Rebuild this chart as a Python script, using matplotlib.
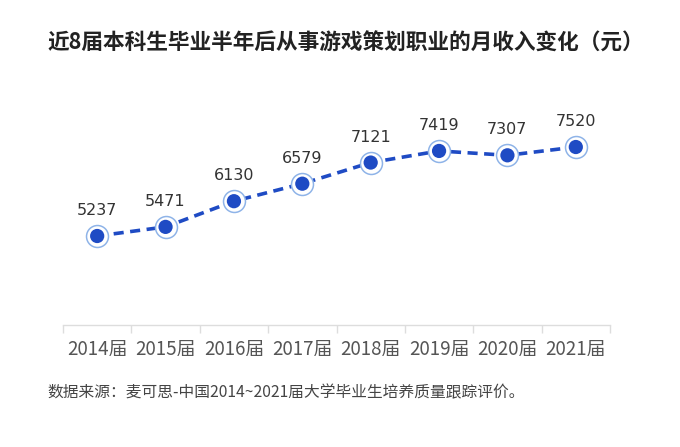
import matplotlib
matplotlib.use("Agg")
import matplotlib.pyplot as plt

plt.rcParams['font.family'] = ['Noto Sans CJK SC', 'DejaVu Sans']

categories = ["2014届", "2015届", "2016届", "2017届", "2018届", "2019届", "2020届", "2021届"]
values = [5237, 5471, 6130, 6579, 7121, 7419, 7307, 7520]

title = "近8届本科生毕业半年后从事游戏策划职业的月收入变化（元）"
source = "数据来源：麦可思-中国2014~2021届大学毕业生培养质量跟踪评价。"

W, H = 680, 447
fig = plt.figure(figsize=(W/100, H/100), dpi=100)
ax = fig.add_axes([63/W, 122/H, (610-63)/W, 196.7/H])

x = list(range(len(categories)))
line_c = "#1f4bc4"
ax.plot(x, values, linestyle=(0, (2.8, 1.8)), color=line_c, lw=2.6, zorder=2)
ax.scatter(x, values, s=250, facecolor="white", edgecolor="#8fb4e8", linewidth=1.1, zorder=3)
ax.scatter(x, values, s=105, facecolor=line_c, edgecolor="none", zorder=4)
for xi, v in zip(x, values):
    ax.annotate(f"{v}", (xi, v), xytext=(0, 13), textcoords="offset points",
                ha="center", va="bottom", fontsize=11.5, color="#333333",
                family="DejaVu Sans")

ax.set_xlim(-0.5, len(categories) - 0.5)
ax.set_ylim(2954, 8000)
ax.set_yticks([])
for s in ["top", "right", "left"]:
    ax.spines[s].set_visible(False)
ax.spines["bottom"].set_color("#dddddd")
ax.spines["bottom"].set_linewidth(1)
ax.set_xticks(x)
ax.set_xticklabels(categories, fontsize=13.5, color="#555555")
ax.tick_params(axis="x", length=0, pad=10)
ax.set_xticks([i - 0.5 for i in range(len(categories) + 1)], minor=True)
ax.tick_params(axis="x", which="minor", length=6, color="#dddddd", width=1)

fig.text(47/W, 1 - 43/H, title, fontsize=15.6, fontweight="bold", color="#222222",
         ha="left", va="center")
fig.text(47/W, 1 - 393/H, source, fontsize=11.3, color="#444444", ha="left", va="center")

fig.savefig("out.png", dpi=100, facecolor="white")
